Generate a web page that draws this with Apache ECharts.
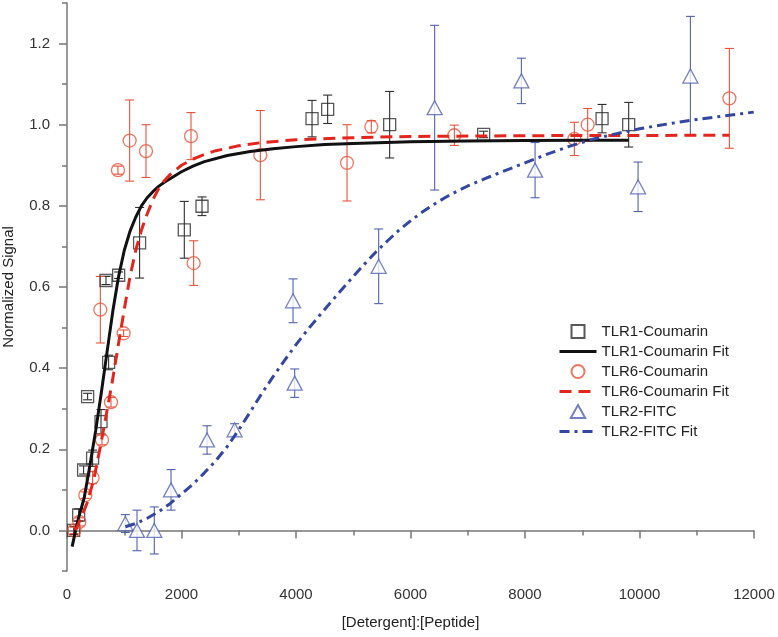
<!DOCTYPE html>
<html>
<head>
<meta charset="utf-8">
<script src="https://cdn.jsdelivr.net/npm/echarts@6/dist/echarts.min.js"></script>
<style>
html,body{margin:0;padding:0;background:#fff;}
#chart{width:778px;height:637px;}
</style>
</head>
<body>
<div id="chart"></div>
<script>
// ---- data ----
const xTicks = [0, 2000, 4000, 6000, 8000, 10000, 12000];
const yTicks = [0.0, 0.2, 0.4, 0.6, 0.8, 1.0, 1.2];

const tlr1X   = [116, 204, 290, 360, 447, 594, 681, 727, 902, 1268, 2049, 2358, 4280, 4553, 5636, 7278, 9346, 9811];
const tlr1Y   = [0.0, 0.038, 0.149, 0.33, 0.178, 0.268, 0.616, 0.414, 0.629, 0.709, 0.741, 0.799, 1.015, 1.038, 1.0, 0.976, 1.015, 1.0];
const tlr1Err = [0.01, 0.015, 0.01, 0.008, 0.02, 0.03, 0.01, 0.018, 0.008, 0.087, 0.07, 0.023, 0.045, 0.035, 0.082, 0.008, 0.035, 0.055];

const tlr6X   = [128, 215, 320, 447, 582, 611, 768, 890, 989, 1094, 1380, 2166, 2212, 3377, 4891, 5316, 6766, 8862, 9095, 11570];
const tlr6Y   = [0.0, 0.021, 0.087, 0.13, 0.544, 0.223, 0.316, 0.888, 0.486, 0.961, 0.935, 0.972, 0.659, 0.925, 0.906, 0.995, 0.974, 0.965, 1.0, 1.065];
const tlr6Err = [0.008, 0.01, 0.008, 0.015, 0.082, 0.012, 0.012, 0.01, 0.008, 0.1, 0.065, 0.058, 0.055, 0.11, 0.094, 0.015, 0.025, 0.041, 0.04, 0.123];

const tlr2X   = [1019, 1223, 1525, 1817, 2446, 2928, 3948, 3977, 5444, 6422, 7937, 8176, 9975, 10889];
const tlr2Y   = [0.017, 0.0, 0.0, 0.1, 0.223, 0.248, 0.566, 0.363, 0.651, 1.042, 1.108, 0.888, 0.847, 1.12];
const tlr2Err = [0.022, 0.05, 0.058, 0.05, 0.035, 0.015, 0.054, 0.035, 0.092, 0.203, 0.056, 0.068, 0.061, 0.147];

const fit1X = [90, 150, 200, 300, 400, 500, 600, 700, 800, 900, 1000, 1100, 1200, 1300, 1400, 1500, 1600, 1700, 1800, 2000, 2200, 2400, 2800, 3200, 3600, 4000, 4500, 5000, 6000, 7000, 8000, 9000, 9811];
const fit1Y = [-0.04, 0.0, 0.03, 0.08, 0.16, 0.245, 0.34, 0.44, 0.54, 0.625, 0.69, 0.737, 0.772, 0.8, 0.82, 0.835, 0.848, 0.858, 0.867, 0.884, 0.898, 0.909, 0.924, 0.934, 0.941, 0.946, 0.951, 0.954, 0.958, 0.96, 0.961, 0.962, 0.962];

const fit6X = [145, 203, 350, 465, 582, 669, 786, 902, 1019, 1100, 1200, 1300, 1400, 1500, 1600, 1700, 1800, 2000, 2200, 2400, 2600, 3000, 3400, 4000, 5000, 6000, 8000, 11570];
const fit6Y = [0.0, 0.017, 0.067, 0.124, 0.206, 0.272, 0.363, 0.462, 0.56, 0.625, 0.69, 0.74, 0.78, 0.815, 0.842, 0.862, 0.877, 0.9, 0.915, 0.927, 0.936, 0.948, 0.956, 0.963, 0.968, 0.971, 0.973, 0.974];

const fit2X = [1019, 1200, 1400, 1600, 1800, 2000, 2200, 2400, 2600, 2800, 3000, 3200, 3400, 3600, 3800, 4000, 4200, 4400, 4600, 4800, 5000, 5200, 5400, 5600, 5800, 6000, 6200, 6400, 6600, 6800, 7000, 7300, 7600, 8000, 8400, 8800, 9200, 9600, 10000, 10500, 11000, 11500, 11995];
const fit2Y = [0.009, 0.017, 0.03, 0.046, 0.066, 0.09, 0.114, 0.142, 0.172, 0.207, 0.248, 0.292, 0.337, 0.379, 0.419, 0.458, 0.494, 0.528, 0.561, 0.594, 0.626, 0.657, 0.687, 0.714, 0.74, 0.763, 0.784, 0.803, 0.82, 0.835, 0.849, 0.867, 0.884, 0.906, 0.928, 0.948, 0.965, 0.978, 0.99, 1.002, 1.013, 1.022, 1.031];

// ---- build ----
const FONT = "'Liberation Sans', Arial, sans-serif";
const pts = (xs, ys) => xs.map((x, i) => [x, ys[i]]);
const errPts = (xs, ys, es) => xs.map((x, i) => [x, ys[i] - es[i], ys[i] + es[i]]);

function errSeries(xs, ys, es, color) {
  return {
    type: 'custom', silent: true, z: 1,
    data: errPts(xs, ys, es),
    encode: { x: 0, y: [1, 2] },
    renderItem: function (params, api) {
      const x = api.value(0);
      const lo = api.coord([x, api.value(1)]);
      const hi = api.coord([x, api.value(2)]);
      const w = 4.5;
      const st = { stroke: color, lineWidth: 1.1 };
      return {
        type: 'group',
        children: [
          { type: 'line', shape: { x1: lo[0], y1: lo[1], x2: hi[0], y2: hi[1] }, style: st },
          { type: 'line', shape: { x1: lo[0] - w, y1: lo[1], x2: lo[0] + w, y2: lo[1] }, style: st },
          { type: 'line', shape: { x1: hi[0] - w, y1: hi[1], x2: hi[0] + w, y2: hi[1] }, style: st }
        ]
      };
    }
  };
}

const C1 = '#2e2e2e', C6 = '#e8523a', C2 = '#5261ae';
const L1 = '#111111', L6 = '#e3261d', L2 = '#3446a0';
const SQ = 'path://M0,0H10V10H0Z';
const TRI = 'path://M5,0L10,9L0,9Z';

const chart = echarts.init(document.getElementById('chart'));
chart.setOption({
  backgroundColor: '#fff',
  animation: false,
  textStyle: { fontFamily: FONT },
  grid: { left: 67, right: 24, top: 3, bottom: 66, outerBoundsMode: 'none', containLabel: false },
  legend: {
    orient: 'vertical', left: 553, top: 319,
    itemWidth: 37, itemHeight: 13, itemGap: 5,
    symbolKeepAspect: true,
    textStyle: { fontFamily: FONT, fontSize: 15, color: '#222' },
    data: [
      { name: 'TLR1-Coumarin', icon: SQ },
      { name: 'TLR1-Coumarin Fit', itemStyle: { opacity: 0 }, lineStyle: { width: 3 } },
      { name: 'TLR6-Coumarin', icon: 'circle' },
      { name: 'TLR6-Coumarin Fit', itemStyle: { opacity: 0 }, lineStyle: { width: 3 } },
      { name: 'TLR2-FITC', icon: TRI },
      { name: 'TLR2-FITC Fit', itemStyle: { opacity: 0 }, lineStyle: { width: 3 } }
    ]
  },
  xAxis: {
    type: 'value', min: 0, max: 12000, interval: 2000,
    name: '[Detergent]:[Peptide]', nameLocation: 'middle', nameGap: 44,
    nameTextStyle: { fontFamily: FONT, fontSize: 15, color: '#222' },
    axisLine: { show: true, lineStyle: { color: '#777', width: 1.5 } },
    axisTick: { show: true, length: 8, lineStyle: { color: '#777', width: 1.5 } },
    minorTick: { show: true, splitNumber: 2, length: 5, lineStyle: { color: '#777', width: 1.5 } },
    axisLabel: { fontFamily: FONT, fontSize: 15, color: '#333', margin: 16,
      customValues: xTicks, formatter: v => String(v) },
    splitLine: { show: false }
  },
  yAxis: [{
    type: 'value', min: -0.1, max: 1.3,
    name: 'Normalized Signal', nameLocation: 'middle', nameGap: 51,
    nameTextStyle: { fontFamily: FONT, fontSize: 15, color: '#222' },
    axisLine: { show: true, lineStyle: { color: '#777', width: 1.5 } },
    axisTick: { show: true, length: 8, customValues: yTicks, lineStyle: { color: '#777', width: 1.5 } },
    axisLabel: { fontFamily: FONT, fontSize: 15, color: '#333', margin: 17,
      customValues: yTicks, formatter: v => v.toFixed(1) },
    splitLine: { show: false }
  }, {
    type: 'value', min: -0.1, max: 1.3, interval: 0.1, position: 'left',
    axisLine: { show: false },
    axisTick: { show: true, length: 5, lineStyle: { color: '#777', width: 1.5 } },
    axisLabel: { show: false },
    splitLine: { show: false }
  }],
  series: [
    errSeries(tlr1X, tlr1Y, tlr1Err, C1),
    errSeries(tlr6X, tlr6Y, tlr6Err, C6),
    errSeries(tlr2X, tlr2Y, tlr2Err, C2),
    { name: 'TLR1-Coumarin', type: 'scatter', z: 2, symbol: 'rect', symbolSize: 12,
      itemStyle: { color: 'rgba(255,255,255,0)', borderColor: C1, borderWidth: 1.3 },
      data: pts(tlr1X, tlr1Y) },
    { name: 'TLR6-Coumarin', type: 'scatter', z: 2, symbol: 'circle', symbolSize: 13,
      itemStyle: { color: 'rgba(255,255,255,0)', borderColor: C6, borderWidth: 1.3 },
      data: pts(tlr6X, tlr6Y) },
    { name: 'TLR2-FITC', type: 'scatter', z: 2, symbol: 'triangle', symbolSize: [15, 14],
      itemStyle: { color: '#fff', borderColor: C2, borderWidth: 1.3 },
      data: pts(tlr2X, tlr2Y) },
    { name: 'TLR1-Coumarin Fit', type: 'line', z: 3, showSymbol: false, symbol: 'none', smooth: false,
      lineStyle: { color: L1, width: 3 }, itemStyle: { color: L1 },
      data: pts(fit1X, fit1Y) },
    { name: 'TLR6-Coumarin Fit', type: 'line', z: 3, showSymbol: false, symbol: 'none', smooth: false,
      lineStyle: { color: L6, width: 3, type: [12, 7] }, itemStyle: { color: L6 },
      data: pts(fit6X, fit6Y) },
    { name: 'TLR2-FITC Fit', type: 'line', z: 3, showSymbol: false, symbol: 'none', smooth: false,
      lineStyle: { color: L2, width: 3, type: [10, 5, 3, 5] }, itemStyle: { color: L2 },
      data: pts(fit2X, fit2Y) }
  ]
});
</script>
</body>
</html>
